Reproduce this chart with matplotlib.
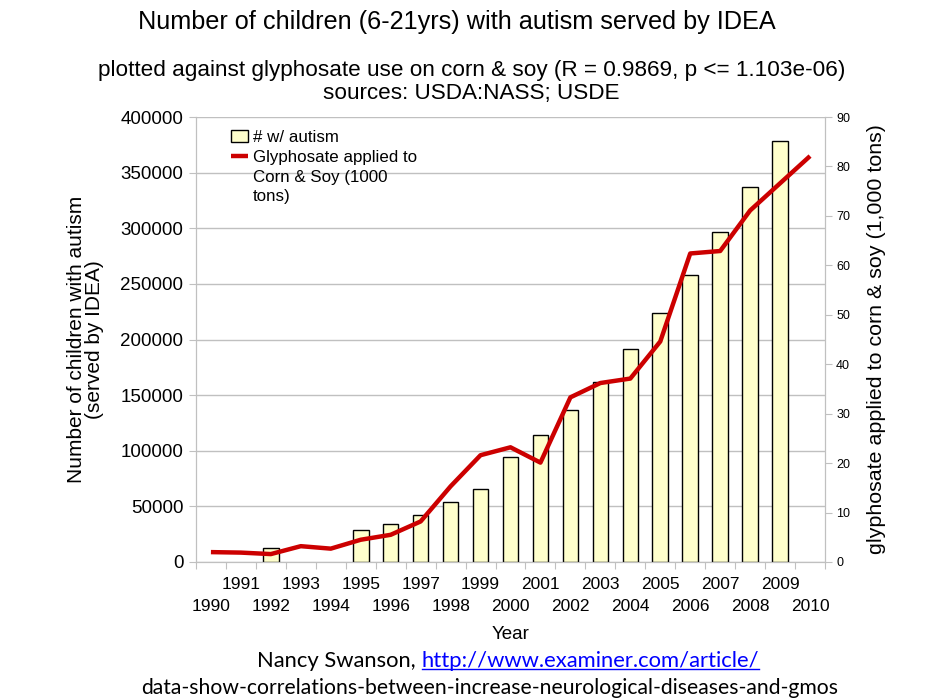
import matplotlib

matplotlib.use("Agg")
import matplotlib.pyplot as plt
from matplotlib.lines import Line2D
from matplotlib.ticker import FixedLocator, NullFormatter

years = list(range(1990, 2011))
autism = [None, None, 12300, None, None, 28500, 33900, 42000, 53700, 65600,
          94100, 114500, 136600, 162100, 191200, 223600, 257700, 296400,
          336800, 378200, None]
glyphosate = [2.0, 1.9, 1.6, 3.2, 2.7, 4.5, 5.5, 8.2, 15.3, 21.6, 23.2, 20.1,
              33.3, 36.2, 37.1, 44.6, 62.4, 62.9, 71.1, 76.6, 82.1]
left_ticks = [0, 50000, 100000, 150000, 200000, 250000, 300000, 350000, 400000]
right_ticks = [0, 10, 20, 30, 40, 50, 60, 70, 80, 90]

CHART_FONT = "Liberation Sans"
NOTE_FONT = "Lato"
GRID = "#c0c0c0"
RED = "#cc0000"


def main():
    fig = plt.figure(figsize=(9.43, 6.99), dpi=100)
    ax = fig.add_axes([0.2078, 0.196, 0.6671, 0.6366])
    ax2 = ax.twinx()

    xs = list(range(len(years)))
    bx = [x for x, v in zip(xs, autism) if v is not None]
    bv = [v for v in autism if v is not None]
    bars = ax.bar(bx, bv, width=0.52, color="#ffffcc", edgecolor="black",
                  lw=1.0, zorder=3)
    line, = ax2.plot(xs, glyphosate, color=RED, lw=3.2, solid_capstyle="butt")

    ax.set_xlim(-0.5, len(years) - 0.5)
    ax.set_ylim(0, 400000)
    ax2.set_ylim(0, 90)
    ax.set_yticks(left_ticks)
    ax.set_yticklabels([str(t) for t in left_ticks], fontsize=13.5,
                       family=CHART_FONT)
    ax2.set_yticks(right_ticks)
    ax2.set_yticklabels([str(t) for t in right_ticks], fontsize=9,
                        family=CHART_FONT)

    # ticks on category boundaries; odd years on the upper row of labels
    odd = [x for x, y in zip(xs, years) if y % 2]
    even = [x for x, y in zip(xs, years) if not y % 2]
    ax.xaxis.set_major_locator(FixedLocator([x - 0.5 for x in range(len(years) + 1)]))
    ax.xaxis.set_major_formatter(NullFormatter())
    ax.xaxis.set_minor_locator(FixedLocator(odd))
    ax.set_xticklabels([str(years[x]) for x in odd], minor=True,
                       fontsize=12.5, family=CHART_FONT)
    ax.tick_params(axis="x", which="major", length=5, color=GRID)
    ax.tick_params(axis="x", which="minor", length=0, pad=11)
    ax.tick_params(axis="y", length=5, color=GRID, pad=4)
    ax2.tick_params(axis="y", length=5, color=GRID, pad=3)

    # even years on the lower row
    sec = ax.secondary_xaxis("bottom")
    sec.set_xticks(even)
    sec.set_xticklabels([str(years[x]) for x in even], fontsize=12.5,
                        family=CHART_FONT)
    sec.tick_params(axis="x", length=0, pad=27)
    sec.spines["bottom"].set_visible(False)
    sec.set_xlabel("Year", fontsize=13.5, family=CHART_FONT, labelpad=8)

    ax.grid(axis="y", color=GRID, lw=1.0, zorder=0)
    for a in (ax, ax2):
        for s in a.spines.values():
            s.set_color(GRID)
        a.spines["top"].set_visible(False)
    ax.set_zorder(ax2.get_zorder() - 1)
    ax.patch.set_visible(False)
    ax2.patch.set_visible(False)

    ax.set_ylabel("Number of children with autism\n(served by IDEA)",
                  fontsize=15, family=CHART_FONT, labelpad=12, linespacing=0.95)
    ax2.set_ylabel("glyphosate applied to corn & soy (1,000 tons)",
                   fontsize=15.4, family=CHART_FONT, labelpad=12)

    # legend: line handle sits on the first line of its wrapped label
    spacer = Line2D([], [], color="none")
    leg = ax2.legend([bars, line, spacer],
                     ["# w/ autism", "Glyphosate applied to", "Corn & Soy (1000\ntons)"],
                     loc="upper left", bbox_to_anchor=(0.032, 1.005), frameon=False,
                     prop={"family": CHART_FONT, "size": 12.2},
                     handlelength=1.0, handletextpad=0.25, labelspacing=0.3)
    for t in leg.get_texts():
        t.set_linespacing(1.3)

    fig.text(0.485, 0.968, "Number of children (6-21yrs) with autism served by IDEA",
             ha="center", va="center", fontsize=18.2, family=CHART_FONT)
    fig.text(0.5, 0.899, "plotted against glyphosate use on corn & soy "
             "(R = 0.9869, p <= 1.103e-06)",
             ha="center", va="center", fontsize=16.2, family=CHART_FONT)
    fig.text(0.5, 0.866, "sources: USDA:NASS; USDE",
             ha="center", va="center", fontsize=16.2, family=CHART_FONT)

    t1 = fig.text(0.273, 0.055, "Nancy Swanson, ", ha="left", va="center",
                  fontsize=15.8, family=NOTE_FONT)
    fig.canvas.draw()
    bb = t1.get_window_extent()
    x_url = bb.x1 / fig.bbox.width
    t2 = fig.text(x_url, 0.055, "http://www.examiner.com/article/", ha="left",
                  va="center", fontsize=15.8, family=NOTE_FONT, color="#0000ff")
    fig.canvas.draw()
    ub = t2.get_window_extent()
    uy = (ub.y0 + 2) / fig.bbox.height
    fig.add_artist(Line2D([ub.x0 / fig.bbox.width, ub.x1 / fig.bbox.width],
                          [uy, uy], color="#0000ff", lw=1.0,
                          transform=fig.transFigure))
    fig.text(0.519, 0.016,
             "data-show-correlations-between-increase-neurological-diseases-and-gmos",
             ha="center", va="center", fontsize=15.2, family=NOTE_FONT)

    fig.savefig("out.png", dpi=100)


if __name__ == "__main__":
    main()
